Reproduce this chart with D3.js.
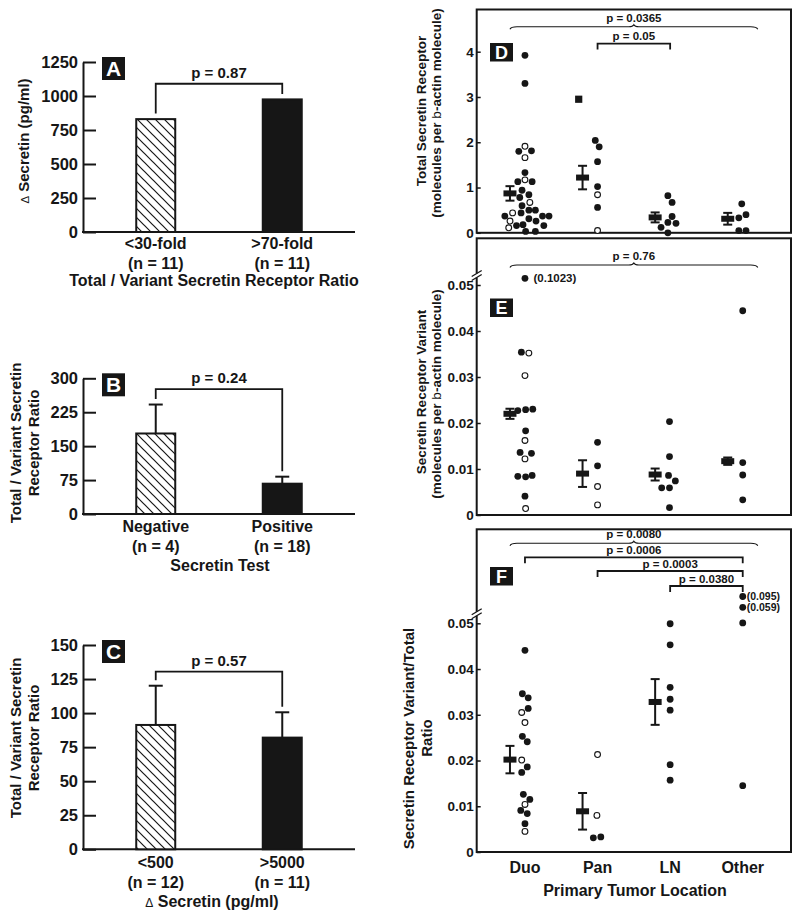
<!DOCTYPE html>
<html><head><meta charset="utf-8">
<script src="https://cdn.jsdelivr.net/npm/d3@7"></script>
<style>
body{margin:0;background:#fff}
svg{display:block}
text{font-family:"Liberation Sans",Arial,Helvetica,sans-serif;font-weight:bold;fill:#161616}
</style>
</head><body>
<svg id="c" width="800" height="916"></svg>
<script>
// ---------------- DATA ----------------
// Panel A
const groupsA = ["<30-fold", ">70-fold"];
const nA = ["(n = 11)", "(n = 11)"];
const valuesA = [830, 975];
const semA = [null, null];
const ticksA = [0, 250, 500, 750, 1000, 1250];
const pA = {label: "p = 0.87", level: 1090};
// Panel B
const groupsB = ["Negative", "Positive"];
const nB = ["(n = 4)", "(n = 18)"];
const valuesB = [178, 67];
const semB = [64, 15.5];
const ticksB = [0, 75, 150, 225, 300];
const pB = {label: "p = 0.24", level: 276};
// Panel C
const groupsC = ["<500", ">5000"];
const nC = ["(n = 12)", "(n = 11)"];
const valuesC = [91.3, 82];
const semC = [28.8, 18.6];
const ticksC = [0, 25, 50, 75, 100, 125, 150];
const pC = {label: "p = 0.57", level: 130.4};

// Panels D-F: categories
const categories = ["Duo", "Pan", "LN", "Other"];
// points: [value, lane (swarm slot), hollow(1)/filled(0), shape]
const totalDuo = [[3.92,0,0],[3.30,0,0],[1.91,0,1],[1.80,-0.95,0],[1.81,1,0],[1.66,0,1],[1.33,0,0],[1.17,0,1],[1.13,-1.1,0],[1.13,1.1,0],[0.94,-0.45,0],[0.84,0.6,0],[0.78,-0.8,0],[0.67,0.75,1],[0.60,-0.45,0],[0.50,0.6,0],[0.50,1.6,0],[0.44,-1.9,1],[0.44,-0.6,0],[0.37,-3.1,0],[0.37,2.7,0],[0.37,3.7,0],[0.31,0.6,0],[0.26,-2.3,1],[0.26,1.7,0],[0.16,-1.3,0],[0.11,-2.5,1],[0.18,-0.3,0],[0.16,2.9,0],[0.03,0.1,0],[0.03,1.6,0]];
const totalPan = [[2.95,-2.9,0,"square"],[2.04,-0.35,0],[1.90,0.25,0],[1.57,0,0],[1.02,0,0],[0.84,0,1],[0.56,0,0],[0.05,0,1]];
const totalLN = [[0.82,-0.35,0],[0.67,0.3,0],[0.36,0.3,0],[0.23,-0.35,0],[0.12,-1.4,0],[0.21,0.9,0],[0.0,-0.35,0]];
const totalOther = [[0.64,-0.15,0],[0.40,0.5,0],[0.33,-0.6,0],[0.05,-0.6,0],[0.05,0.5,0]];
const totalMean = [0.87, 1.22, 0.34, 0.31];
const totalSem = [0.16, 0.26, 0.11, 0.13];
const totalTicks = [0, 1, 2, 3, 4];

const variantDuo = [[0.1023,0,0],[0.0354,-0.55,0],[0.0352,0.6,1],[0.0303,0,1],[0.0227,-1.1,0],[0.0229,0.1,0],[0.0230,1.2,0],[0.0183,0.1,0],[0.0162,0,1],[0.0136,-0.75,0],[0.0134,1,0],[0.0122,0,1],[0.0084,-1.1,0],[0.0083,0.1,0],[0.0086,1.1,0],[0.0041,0,0],[0.0014,0.1,1]];
const variantPan = [[0.0158,0,0],[0.0107,0,0],[0.0062,0,1],[0.0022,0,1]];
const variantLN = [[0.0203,-0.1,0],[0.0127,-0.1,0],[0.0086,-0.25,0],[0.0074,0.8,0],[0.0059,-1.3,0],[0.0059,-0.1,0],[0.0016,-0.1,0]];
const variantOther = [[0.0444,0,0],[0.0114,0,0],[0.0087,0,0],[0.0033,0,0]];
const variantMean = [0.0220, 0.0090, 0.0088, 0.0117];
const variantSem = [0.0011, 0.0029, 0.0013, 0.0008];
const variantTicks = [0, 0.01, 0.02, 0.03, 0.04, 0.05];
const variantNotes = [{cat: "Duo", value: 0.1023, text: "(0.1023)"}];

const ratioDuo = [[0.0441,0,0],[0.0346,-0.4,0],[0.0337,0.5,0],[0.0314,0.5,0],[0.0305,-0.5,1],[0.0283,0,1],[0.0253,-0.4,0],[0.0241,0.35,0],[0.0201,-0.5,1],[0.0186,0.35,0],[0.0174,-0.5,0],[0.0126,-0.25,0],[0.0115,0.75,0],[0.0104,0,1],[0.0091,-0.65,0],[0.0084,0.35,0],[0.0062,0,0],[0.0045,0,1]];
const ratioPan = [[0.0213,0,1],[0.0080,-0.1,1],[0.0031,-0.65,0],[0.0033,0.5,0]];
const ratioLN = [[0.0499,0,0],[0.0453,0,0],[0.0360,0,0],[0.0334,0,0],[0.0310,0,0],[0.0191,0,0],[0.0157,0,0]];
const ratioOther = [[0.095,0,0],[0.059,0,0],[0.0502,0,0],[0.0145,0,0]];
const ratioMean = [0.0202, 0.0089, 0.0328, null];
const ratioSem = [0.0030, 0.0040, 0.0050, null];
const ratioTicks = [0, 0.01, 0.02, 0.03, 0.04, 0.05];
const ratioNotes = [{cat: "Other", value: 0.095, text: "(0.095)"}, {cat: "Other", value: 0.059, text: "(0.059)"}];

// comparisons
const totalComps = [{from: "Duo", to: "Other", label: "p = 0.0365", kind: "brace"}, {from: "Pan", to: "LN", label: "p = 0.05", kind: "bracket"}];
const variantComps = [{from: "Duo", to: "Other", label: "p = 0.76", kind: "brace"}];
const ratioComps = [{from: "Duo", to: "Other", label: "p = 0.0080", kind: "brace"}, {from: "Duo", to: "Other", label: "p = 0.0006", kind: "bracket"}, {from: "Pan", to: "Other", label: "p = 0.0003", kind: "bracket"}, {from: "LN", to: "Other", label: "p = 0.0380", kind: "bracket"}];

// ---------------- DRAWING ----------------
const INK = "#161616";
const FONT = '"Liberation Sans", Arial, Helvetica, sans-serif';
const svg = d3.select("#c");
svg.append("rect").attr("width", 800).attr("height", 916).attr("fill", "#fff");

const defs = svg.append("defs");
const pat = defs.append("pattern").attr("id", "hatch").attr("patternUnits", "userSpaceOnUse")
  .attr("width", 9).attr("height", 9);
pat.append("rect").attr("width", 9).attr("height", 9).attr("fill", "#fff");
pat.append("path").attr("d", "M-1,-1L10,10M-1,8L1,10M8,-1L10,1").attr("stroke", INK).attr("stroke-width", 1.2);

function letterBox(x, y, w, h, letter, fs) {
  svg.append("rect").attr("x", x).attr("y", y).attr("width", w).attr("height", h).attr("fill", INK);
  svg.append("text").attr("x", x + w / 2).attr("y", y + h / 2 + fs * 0.36).attr("text-anchor", "middle")
    .attr("font-size", fs).style("fill", "#fff").text(letter);
}

function barPanel(cfg) {
  const g = svg.append("g");
  const x = d3.scalePoint().domain(cfg.groups).range([83, 355]).padding(0.575);
  const y = d3.scaleLinear().domain([0, d3.max(cfg.ticks)]).range([cfg.bottom, cfg.top]);
  const ya = g.append("g").attr("transform", "translate(83,0)")
    .call(d3.axisLeft(y).tickValues(cfg.ticks).tickSize(-13).tickSizeOuter(0).tickPadding(5).tickFormat(d3.format("d")));
  ya.attr("font-family", FONT).attr("font-size", 16.5).attr("font-weight", "bold");
  ya.select(".domain").attr("stroke", INK).attr("stroke-width", 2);
  ya.selectAll(".tick line").attr("stroke", INK).attr("stroke-width", 2);
  ya.selectAll(".tick text").style("fill", INK);
  g.append("line").attr("x1", 82).attr("x2", 355).attr("y1", y(0)).attr("y2", y(0))
    .attr("stroke", INK).attr("stroke-width", 2);
  const bw = 39;
  cfg.groups.forEach((grp, i) => {
    const v = cfg.values[i];
    g.append("rect").attr("x", x(grp) - bw / 2).attr("y", y(v)).attr("width", bw).attr("height", y(0) - y(v))
      .attr("fill", i === 0 ? "url(#hatch)" : INK).attr("stroke", INK).attr("stroke-width", 2);
    if (cfg.sem[i] != null) {
      const ye = y(v + cfg.sem[i]);
      g.append("line").attr("x1", x(grp)).attr("x2", x(grp)).attr("y1", y(v)).attr("y2", ye).attr("stroke", INK).attr("stroke-width", 2);
      g.append("line").attr("x1", x(grp) - 7).attr("x2", x(grp) + 7).attr("y1", ye).attr("y2", ye).attr("stroke", INK).attr("stroke-width", 2);
    }
    g.append("text").attr("x", x(grp)).attr("y", y(0) + cfg.catDy[0]).attr("text-anchor", "middle").attr("font-size", 16).text(grp);
    g.append("text").attr("x", x(grp)).attr("y", y(0) + cfg.catDy[1]).attr("text-anchor", "middle").attr("font-size", 16).text(cfg.n[i]);
  });
  // bracket
  const tops = cfg.groups.map((grp, i) => y(cfg.values[i] + (cfg.sem[i] || 0)) - 5.5);
  const yb = y(cfg.p.level);
  const x0 = x(cfg.groups[0]), x1 = x(cfg.groups[1]);
  g.append("path").attr("d", `M${x0},${tops[0]}V${yb}H${x1}V${tops[1]}`).attr("fill", "none")
    .attr("stroke", INK).attr("stroke-width", 1.8);
  g.append("text").attr("x", (x0 + x1) / 2).attr("y", yb - 6).attr("text-anchor", "middle").attr("font-size", 15).text(cfg.p.label);
  // title
  const t = g.append("text").attr("x", cfg.titleX).attr("y", y(0) + cfg.catDy[2]).attr("text-anchor", "middle").attr("font-size", 16);
  if (cfg.titleDelta) {
    t.append("tspan").attr("font-size", 12).attr("font-weight", "normal").text("Δ");
    t.append("tspan").text("  " + cfg.title);
  } else t.text(cfg.title);
  // y label
  cfg.ylab.forEach((l, k) => {
    const tx = g.append("text").attr("transform", `translate(${l.x},${l.cy}) rotate(-90)`).attr("text-anchor", "middle").attr("font-size", 15);
    if (l.delta) {
      tx.append("tspan").attr("font-size", 11.5).attr("font-weight", "normal").text("Δ");
      tx.append("tspan").text(" " + l.text);
    } else tx.text(l.text);
  });
  letterBox(102, cfg.top - 5, 23, 23, cfg.letter, 21);
}

barPanel({groups: groupsA, n: nA, values: valuesA, sem: semA, ticks: ticksA, p: pA, top: 62, bottom: 232,
  catDy: [16.5, 36.5, 54], title: "Total / Variant Secretin Receptor Ratio", titleX: 214,
  ylab: [{text: "Secretin (pg/ml)", delta: true, x: 28.5, cy: 141}], letter: "A"});
barPanel({groups: groupsB, n: nB, values: valuesB, sem: semB, ticks: ticksB, p: pB, top: 378.3, bottom: 514,
  catDy: [18, 38, 56.5], title: "Secretin Test", titleX: 220,
  ylab: [{text: "Total / Variant Secretin", x: 20.5, cy: 443}, {text: "Receptor Ratio", x: 38.5, cy: 443}], letter: "B"});
barPanel({groups: groupsC, n: nC, values: valuesC, sem: semC, ticks: ticksC, p: pC, top: 645, bottom: 849.3,
  catDy: [19, 39, 57.5], title: "Secretin (pg/ml)", titleDelta: true, titleX: 212,
  ylab: [{text: "Total / Variant Secretin", x: 20.5, cy: 738}, {text: "Receptor Ratio", x: 38.5, cy: 738}], letter: "C"});

// scatter panels
const xs = d3.scalePoint().domain(categories).range([476.7, 791]).padding(0.665);
const LANE = 6.5, R = 3.4, MEAN_DX = -15;
const BOX_L = 476.7, BOX_R = 791;

function scatterPanel(cfg) {
  const g = svg.append("g");
  const y = cfg.y;
  g.append("rect").attr("x", BOX_L).attr("y", cfg.boxTop).attr("width", BOX_R - BOX_L).attr("height", y(0) - cfg.boxTop)
    .attr("fill", "none").attr("stroke", INK).attr("stroke-width", 2);
  const ya = g.append("g").attr("transform", `translate(${BOX_L},0)`)
    .call(d3.axisLeft(y).tickValues(cfg.ticks).tickSize(-4).tickSizeOuter(0).tickPadding(3).tickFormat(cfg.fmt));
  ya.attr("font-family", FONT).attr("font-size", 13.5).attr("font-weight", "bold");
  ya.select(".domain").remove();
  ya.selectAll(".tick line").attr("stroke", INK).attr("stroke-width", 1.5);
  ya.selectAll(".tick text").style("fill", INK);
  // axis break
  if (cfg.breakAt != null) {
    const yb = y(cfg.breakAt) - 9.5;
    g.append("rect").attr("x", BOX_L - 2).attr("y", yb - 2).attr("width", 4).attr("height", 4).attr("fill", "#fff");
    [-2, 2].forEach(d => g.append("line").attr("x1", BOX_L - 5).attr("x2", BOX_L + 5).attr("y1", yb + d + 3).attr("y2", yb + d - 3)
      .attr("stroke", INK).attr("stroke-width", 1.3));
  }
  // points
  cfg.points.forEach((pts, ci) => {
    const cx = xs(categories[ci]);
    pts.forEach(p => {
      const px = cx + p[1] * LANE, py = y(p[0]);
      if (p[3] === "square") {
        g.append("rect").attr("x", px - 3.6).attr("y", py - 3.6).attr("width", 7.2).attr("height", 7.2).attr("fill", INK);
      } else {
        g.append("circle").attr("cx", px).attr("cy", py).attr("r", p[2] ? R - 0.5 : R)
          .attr("fill", p[2] ? "#fff" : INK).attr("stroke", INK).attr("stroke-width", p[2] ? 1.1 : 0);
      }
    });
    // mean +/- sem
    const m = cfg.mean[ci];
    if (m != null) {
      const mx = cx + MEAN_DX, s = cfg.sem[ci];
      g.append("line").attr("x1", mx).attr("x2", mx).attr("y1", y(m - s)).attr("y2", y(m + s)).attr("stroke", INK).attr("stroke-width", 2);
      [m - s, m + s].forEach(v => g.append("line").attr("x1", mx - 4.5).attr("x2", mx + 4.5).attr("y1", y(v)).attr("y2", y(v)).attr("stroke", INK).attr("stroke-width", 2));
      g.append("rect").attr("x", mx - 6.5).attr("y", y(m) - 3).attr("width", 13).attr("height", 6).attr("fill", INK);
    }
  });
  (cfg.notes || []).forEach(n => {
    g.append("text").attr("x", xs(n.cat) + cfg.noteDx).attr("y", y(n.value) + cfg.noteFs * 0.36).attr("font-size", cfg.noteFs).text(n.text);
  });
  // comparisons
  cfg.comps.forEach((c, k) => {
    const yy = cfg.compY[k];
    if (c.kind === "brace") {
      const x0 = xs(c.from) - 15, x1 = xs(c.to) + 15, xm = (x0 + x1) / 2;
      g.append("path").attr("d", `M${x0},${yy + 2.5}Q${x0 + 1},${yy} ${x0 + 7},${yy}L${xm - 5},${yy}Q${xm - 1},${yy} ${xm},${yy - 2}Q${xm + 1},${yy} ${xm + 5},${yy}L${x1 - 7},${yy}Q${x1 - 1},${yy} ${x1},${yy + 2.5}`)
        .attr("fill", "none").attr("stroke", INK).attr("stroke-width", 1.1);
      g.append("text").attr("x", xm).attr("y", yy - 5).attr("text-anchor", "middle").attr("font-size", 11.5).text(c.label);
    } else {
      const x0 = xs(c.from), x1 = xs(c.to);
      g.append("path").attr("d", `M${x0},${yy + 6}V${yy}H${x1}V${yy + 6}`).attr("fill", "none").attr("stroke", INK).attr("stroke-width", 1.8);
      g.append("text").attr("x", (x0 + x1) / 2).attr("y", yy - 3.5).attr("text-anchor", "middle").attr("font-size", 11.5).text(c.label);
    }
  });
  // y label
  cfg.ylab.forEach(l => {
    const t = g.append("text").attr("transform", `translate(${l.x},${l.cy}) rotate(-90)`).attr("text-anchor", "middle").attr("font-size", l.fs);
    if (l.text.includes("b-actin")) {
      const parts = l.text.split("b-actin");
      t.append("tspan").text(parts[0]);
      t.append("tspan").attr("font-weight", "normal").text("b");
      t.append("tspan").text("-actin" + parts[1]);
    } else t.text(l.text);
  });
  letterBox(490, cfg.letterY, 23, 18.5, cfg.letter, 18);
}

const fmt2 = d => d === 0 ? "0" : d3.format(".2f")(d);

const yD = d3.scaleLinear().domain([0, 4]).range([232.8, 51.7]);
scatterPanel({y: yD, boxTop: 9.5, ticks: totalTicks, fmt: d3.format("d"),
  points: [totalDuo, totalPan, totalLN, totalOther], mean: totalMean, sem: totalSem,
  comps: totalComps, compY: [26.7, yD(4.18)], letter: "D", letterY: 43,
  ylab: [{text: "Total Secretin Receptor", x: 426, cy: 111, fs: 13.5}, {text: "(molecules per b-actin molecule)", x: 440.5, cy: 113, fs: 13.5}]});

const yE = d3.scaleLinear().domain([0, 0.05, 0.1023]).range([515, 285, 278.3]);
scatterPanel({y: yE, boxTop: 238.3, ticks: variantTicks, fmt: fmt2, breakAt: 0.05,
  points: [variantDuo, variantPan, variantLN, variantOther], mean: variantMean, sem: variantSem,
  notes: variantNotes, noteDx: 8.5, noteFs: 11.5,
  comps: variantComps, compY: [265], letter: "E", letterY: 298.5,
  ylab: [{text: "Secretin Receptor Variant", x: 426, cy: 392, fs: 13.5}, {text: "(molecules per b-actin molecule)", x: 440.5, cy: 394, fs: 13.5}]});

const yF = d3.scaleLinear().domain([0, 0.05, 0.059, 0.095]).range([852, 623.3, 607.3, 596.5]);
scatterPanel({y: yF, boxTop: 529.3, ticks: ratioTicks, fmt: fmt2, breakAt: 0.05,
  points: [ratioDuo, ratioPan, ratioLN, ratioOther], mean: ratioMean, sem: ratioSem,
  notes: ratioNotes, noteDx: 4, noteFs: 10.5,
  comps: ratioComps, compY: [543.3, 557.3, 571, 586], letter: "F", letterY: 567,
  ylab: [{text: "Secretin Receptor Variant/Total", x: 414, cy: 738.5, fs: 15}, {text: "Ratio", x: 432, cy: 738, fs: 15}]});

// F category axis labels
categories.forEach(c => svg.append("text").attr("x", xs(c)).attr("y", 872.5).attr("text-anchor", "middle").attr("font-size", 16).text(c));
svg.append("text").attr("x", 635).attr("y", 896).attr("text-anchor", "middle").attr("font-size", 16).text("Primary Tumor Location");
</script>
</body></html>
